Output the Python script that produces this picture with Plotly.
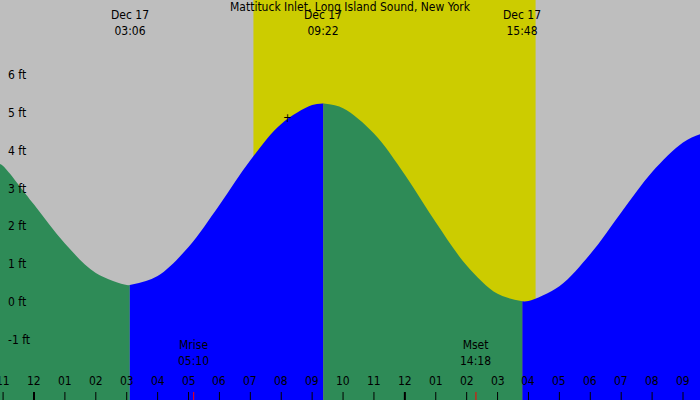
import plotly.graph_objects as go

title = "Mattituck Inlet, Long Island Sound, New York"
# tide curve values (hours since Dec 17 00:00, feet)
seg_fall1_x = [-1.1, -1, 0, 1, 2, 3, 3.1]
seg_fall1_y = [3.65, 3.60, 2.58, 1.55, 0.77, 0.45, 0.45]
seg_rise1_x = [3.1, 4, 5, 6, 7, 8, 9, 9.367]
seg_rise1_y = [0.45, 0.69, 1.46, 2.57, 3.75, 4.71, 5.21, 5.25]
seg_fall2_x = [9.367, 10, 11, 12, 13, 14, 15, 15.8]
seg_fall2_y = [5.25, 5.13, 4.46, 3.37, 2.11, 0.97, 0.22, 0.02]
seg_rise2_x = [15.8, 16, 17, 18, 19, 20, 21, 21.55, 22.0]
seg_rise2_y = [0.02, 0.03, 0.42, 1.27, 2.37, 3.44, 4.22, 4.44, 4.5]

events_h = [3.1, 9.367, 15.8, 21.6]
events_lbl = ["Dec 17<br>03:06", "Dec 17<br>09:22", "Dec 17<br>15:48", "Dec 17<br>21:36"]
day_start, day_end = 7.1, 16.23
hour_ticks = list(range(-1, 22))
hour_labels = ["11", "12"] + ["%02d" % h for h in range(1, 12)] + ["12"] + ["%02d" % h for h in range(1, 10)]
ft_levels = [-1, 0, 1, 2, 3, 4, 5, 6]
moon_h = [5.167, 14.3]
moon_lbl = ["Mrise<br>05:10", "Mset<br>14:18"]

X0, X1, Y0, Y1 = -1.1, 21.55, -2.59, 7.99
F = "Liberation Sans Narrow, DejaVu Sans Condensed, sans-serif"
fig = go.Figure()
for xs, ys, col in [(seg_fall1_x, seg_fall1_y, "#2E8B57"), (seg_rise1_x, seg_rise1_y, "#0000FF"),
                    (seg_fall2_x, seg_fall2_y, "#2E8B57"), (seg_rise2_x, seg_rise2_y, "#0000FF")]:
    fig.add_trace(go.Scatter(x=xs, y=[-3] * len(xs), mode="lines", line=dict(width=0), showlegend=False, hoverinfo="skip"))
    fig.add_trace(go.Scatter(x=xs, y=ys, mode="lines", line=dict(width=0, shape="spline", color=col),
                             fill="tonexty", fillcolor=col, showlegend=False))

shapes = [dict(type="rect", xref="x", yref="y", x0=X0, x1=X1, y0=Y0, y1=Y1, fillcolor="#BEBEBE", line_width=0, layer="below"),
          dict(type="rect", xref="x", yref="y", x0=day_start, x1=day_end, y0=Y0, y1=Y1, fillcolor="#CCCC00", line_width=0, layer="below")]
for v in ft_levels:
    shapes.append(dict(type="line", xref="paper", yref="y", x0=0.04, x1=1, y0=v, y1=v, line=dict(color="black", width=1), layer="below"))
anns = []
for v in ft_levels:
    anns.append(dict(x=0.008, xref="paper", y=v, yref="y", text="%d ft" % v, showarrow=False, xanchor="left",
                     yanchor="middle", font=dict(family=F, size=12, color="black")))
for h, lbl in zip(hour_ticks, hour_labels):
    w = 2 if lbl == "12" else 1
    shapes.append(dict(type="line", xref="x", yref="paper", x0=h, x1=h, y0=0, y1=0.02, line=dict(color="black", width=w)))
    anns.append(dict(x=h, y=0.025, xref="x", yref="paper", text=lbl, showarrow=False, yanchor="bottom",
                     font=dict(family=F, size=12, color="black")))
for h, lbl in zip(moon_h, moon_lbl):
    shapes.append(dict(type="line", xref="x", yref="paper", x0=h, x1=h, y0=0, y1=0.02, line=dict(color="red", width=1)))
    anns.append(dict(x=h, y=0.075, xref="x", yref="paper", text=lbl, showarrow=False, yanchor="bottom",
                     font=dict(family=F, size=12, color="black")))
for h, lbl in zip(events_h, events_lbl):
    anns.append(dict(x=h, y=0.9, xref="x", yref="paper", text=lbl, showarrow=False, yanchor="bottom",
                     font=dict(family=F, size=12, color="black")))
anns.append(dict(x=0.5, y=1.005, xref="paper", yref="paper", text=title, showarrow=False, yanchor="top",
                 font=dict(family=F, size=12, color="black")))
anns.append(dict(x=8.2, y=4.87, xref="x", yref="y", text="+", showarrow=False, font=dict(family=F, size=12, color="black")))

fig.update_layout(width=700, height=400, margin=dict(l=0, r=0, t=0, b=0), plot_bgcolor="#BEBEBE",
                  paper_bgcolor="#BEBEBE", shapes=shapes, annotations=anns,
                  xaxis=dict(range=[X0, X1], visible=False, fixedrange=True),
                  yaxis=dict(range=[Y0, Y1], visible=False, fixedrange=True))
fig.write_html("out.html", config={"displayModeBar": False})
with open("out.html") as f:
    html = f.read()
html = html.replace("<head>", "<head><style>html,body{margin:0;padding:0;overflow:hidden}</style>", 1)
with open("out.html", "w") as f:
    f.write(html)
